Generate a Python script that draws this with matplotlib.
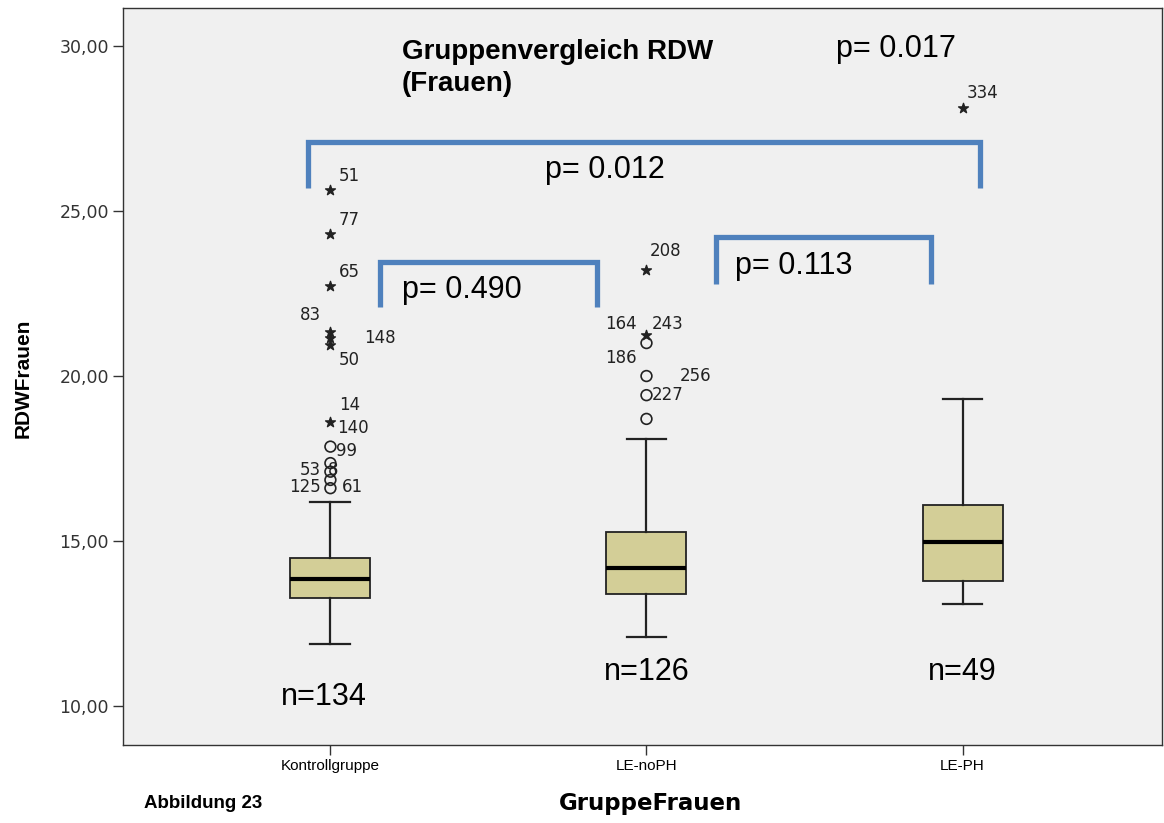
import matplotlib
matplotlib.use("Agg")
import matplotlib.pyplot as plt

plt.rcParams.update({"font.family": ["Liberation Sans", "DejaVu Sans"]})

# box statistics
groups = ["Kontrollgruppe", "LE-noPH", "LE-PH"]
whislo = [11.88, 12.09, 13.09]
q1 = [13.27, 13.39, 13.79]
med = [13.85, 14.18, 14.97]
q3 = [14.48, 15.27, 16.09]
whishi = [16.18, 18.09, 19.30]
n_labels = ["n=134", "n=126", "n=49"]
n_y = [10.27, 11.03, 11.03]

# extreme values (stars) and outliers (circles): (group, value)
star_grp = [1, 1, 1, 1, 1, 1, 1, 2, 2, 3]
star_val = [25.64, 24.32, 22.73, 21.34, 21.14, 20.94, 18.62, 23.21, 21.24, 28.12]
circ_grp = [1, 1, 1, 1, 1, 2, 2, 2, 2]
circ_val = [17.86, 17.36, 17.10, 16.85, 16.60, 21.00, 20.00, 19.42, 18.70]

# case labels: (text, group, value, dx points, dy points)
case_txt = ["51", "77", "65", "83", "148", "50", "14", "140", "99", "53", "8", "125", "61",
            "208", "164", "243", "186", "256", "227", "334"]
case_grp = [1, 1, 1, 1, 1, 1, 1, 1, 1, 1, 1, 1, 1, 2, 2, 2, 2, 2, 2, 3]
case_val = [25.64, 24.32, 22.73, 21.34, 21.14, 20.94, 18.62, 18.62, 17.86, 17.10, 17.10, 16.55, 16.55,
            23.21, 21.00, 21.24, 21.00, 20.00, 19.42, 28.12]
case_dx = [6, 6, 6, -22, 24, 6, 6, 5, 4, -22, -2, -30, 8,
           2, -30, 4, -30, 24, 4, 3]
case_dy = [10, 10, 10, 12, 0, -11, 12, -5, -3, 1, 1, 2, 2,
           14, 14, 8, -11, 0, 0, 11]

# p-value brackets: x0, x1, y top, y foot
br_x0 = [0.93, 1.158, 2.22]
br_x1 = [3.054, 1.844, 2.90]
br_top = [27.09, 23.45, 24.21]
br_foot = [25.7, 22.09, 22.79]
p_txt = ["p= 0.017", "p= 0.012", "p= 0.490", "p= 0.113"]
p_x = [2.60, 1.869, 1.225, 2.28]
p_y = [29.9, 26.24, 22.6, 23.33]

fig = plt.figure(figsize=(11.64, 8.23), dpi=100)
ax = fig.add_axes([0.106, 0.095, 0.892, 0.895])
ax.set_facecolor("#F0F0F0")

stats = [dict(whislo=whislo[i], q1=q1[i], med=med[i], q3=q3[i], whishi=whishi[i], fliers=[])
         for i in range(len(groups))]
ax.bxp(stats, positions=[1, 2, 3], widths=0.253, capwidths=0.126, patch_artist=True,
       showfliers=False,
       boxprops=dict(facecolor="#D3CE97", edgecolor="#222222", linewidth=1.3),
       medianprops=dict(color="black", linewidth=3),
       whiskerprops=dict(color="#222222", linewidth=1.6),
       capprops=dict(color="#222222", linewidth=1.6))

ax.scatter(star_grp, star_val, marker="*", s=55, color="#222222", zorder=4)
ax.scatter(circ_grp, circ_val, marker="o", s=60, facecolor="none", edgecolor="#222222",
           linewidth=1.2, zorder=4)
for t, g, v, dx, dy in zip(case_txt, case_grp, case_val, case_dx, case_dy):
    ax.annotate(t, (g, v), xytext=(dx, dy), textcoords="offset points", fontsize=12,
                family="DejaVu Sans", color="#222222", ha="left", va="center")

blue = "#4F81BD"
for x0, x1, yt, yf in zip(br_x0, br_x1, br_top, br_foot):
    ax.plot([x0, x0, x1, x1], [yf, yt, yt, yf], color=blue, lw=3.8, solid_joinstyle="miter",
            solid_capstyle="butt", zorder=3)
for t, x, y in zip(p_txt, p_x, p_y):
    ax.text(x, y, t, fontsize=22, ha="left" if t != "p= 0.012" else "center", va="center")

ax.text(1.225, 29.35, "Gruppenvergleich RDW\n(Frauen)", fontsize=20, fontweight="bold",
        ha="left", va="center", linespacing=1.3)

for i, t in enumerate(n_labels):
    ax.text(i + 1 + (-0.02 if i == 0 else 0), n_y[i], t, fontsize=22, ha="center", va="center")

ax.set_xlim(0.345, 3.63)
ax.set_ylim(8.82, 31.15)
ax.set_xticks([1, 2, 3])
ax.set_xticklabels(groups, fontsize=11)
ax.set_yticks([10, 15, 20, 25, 30])
ax.set_yticklabels(["10,00", "15,00", "20,00", "25,00", "30,00"], fontsize=12.5,
                   family="DejaVu Sans", color="#333333")
ax.tick_params(direction="out", length=7, width=1, color="#333333")
for s in ax.spines.values():
    s.set_color("#333333")
    s.set_linewidth(1)

fig.text(0.020, 0.54, "RDWFrauen", fontsize=15, fontweight="bold", rotation=90,
         ha="center", va="center")
fig.text(0.559, 0.024, "GruppeFrauen", fontsize=16.5, fontweight="bold", ha="center", va="center",
         family="DejaVu Sans")
fig.text(0.124, 0.024, "Abbildung 23", fontsize=13.5, fontweight="bold", ha="left", va="center")

fig.savefig("out.png", dpi=100)
